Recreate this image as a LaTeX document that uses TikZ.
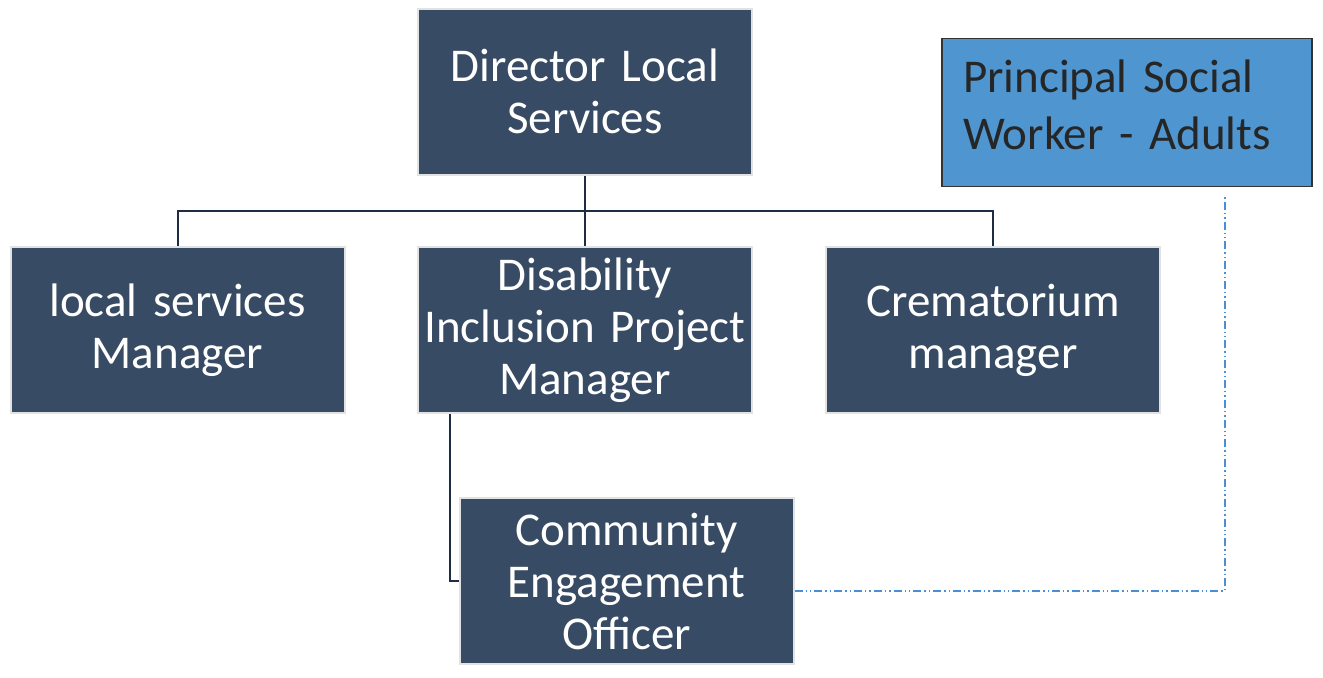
\documentclass[tikz,border=0pt]{standalone}
\usepackage{fontspec}
\setmainfont{Carlito}
\usepackage{tikz}
\usetikzlibrary{positioning}
\definecolor{mnavy}{HTML}{384B64}
\definecolor{mline}{HTML}{1E2D44}
\definecolor{medge}{HTML}{E2E2E2}
\definecolor{mblue}{HTML}{4F96D1}
\definecolor{mdash}{HTML}{4A8FD6}
\tikzset{role/.style = {rectangle, fill = mnavy, draw = medge, line width = 1pt,
                        minimum width = 167pt, minimum height = 83pt, inner sep = 0,
                        text width = 164pt, align = center, text = white,
                        font = \fontsize{23.5}{26}\selectfont}}
\tikzset{advisor/.style = {rectangle, fill = mblue, draw = black!80, line width = 0.9pt,
                           minimum width = 185pt, minimum height = 74pt, inner sep = 0,
                           text width = 164pt, text depth = 36pt, align = left, text = black!85,
                           font = \fontsize{23.5}{28.5}\selectfont}}
\tikzset{link/.style = {mline, line width = 1pt}}
\tikzset{advice/.style = {mdash, line width = 0.6pt,
                          dash pattern = on 4pt off 1.5pt on 0.7pt off 1.5pt on 0.7pt off 1.5pt}}

\begin{document}
\begin{tikzpicture}[x = 0.5pt, y = -0.5pt]
      \useasboundingbox (0, 0) rectangle (1323, 677);

      \node [role] (dir) at (585, 91.5) {Director Local\\Services};
      \node [advisor] (psw) at (1127, 112.5) {Principal Social\\Worker - Adults};
      \node [role] (lsm) at (177.5, 330) {local services\\Manager};
      \node [role] (dis) at (585, 330) {Disability\\Inclusion Project\\Manager};
      \node [role] (cre) at (993, 330) {Crematorium\\manager};
      \node [role] (ceo) at (626.5, 581) {Community\\Engagement\\Officer};

      \coordinate (bar) at (585, 211);
      \draw [link] (dir.south) -- (dis.north);
      \draw [link] (lsm.north) -- (lsm.north |- bar) -- (cre.north |- bar) -- (cre.north);
      \draw [link] ([xshift = 16.5pt] dis.south west) |- (ceo.west);

      \draw [advice, shorten > = 4pt] ([yshift = -5pt] ceo.east) -| ([xshift = 49pt] psw.south);
    \end{tikzpicture}
\end{document}
